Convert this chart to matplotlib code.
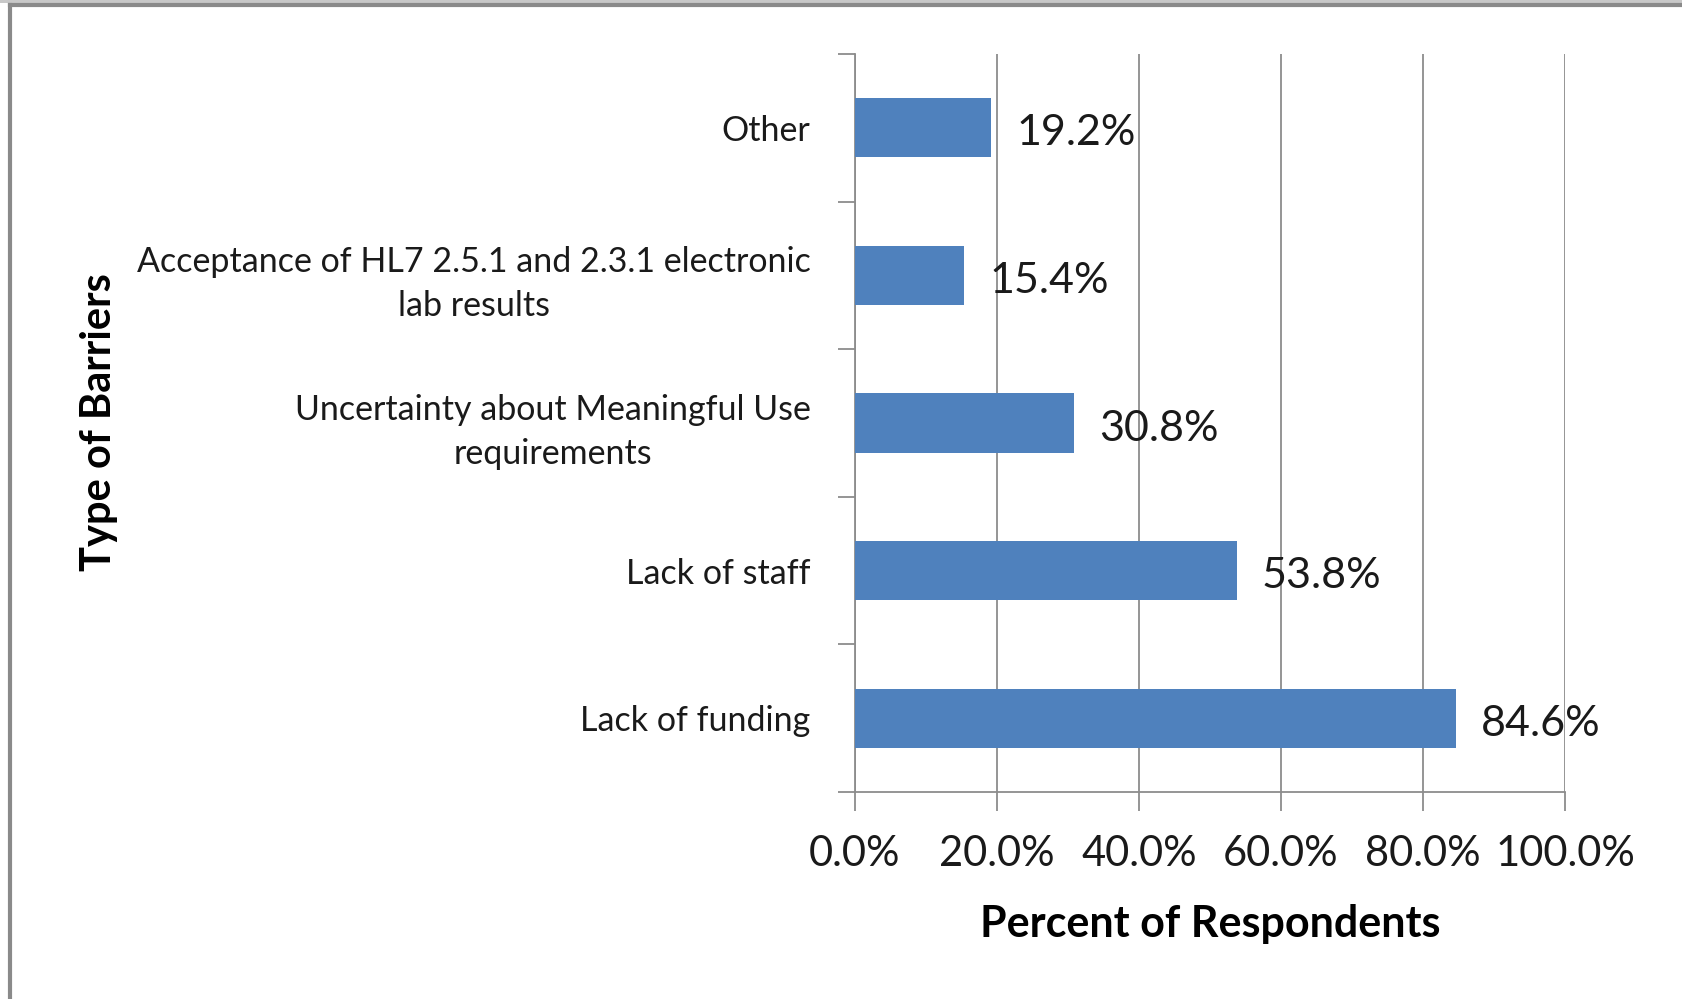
import numpy as np
import matplotlib.pyplot as plt
from matplotlib.patches import Rectangle
from matplotlib.lines import Line2D

# survey results, bottom to top
barriers = ['Lack of funding',
            'Lack of staff',
            'Uncertainty about Meaningful Use\nrequirements',
            'Acceptance of HL7 2.5.1 and 2.3.1 electronic\nlab results',
            'Other']
percents = [84.6, 53.8, 30.8, 15.4, 19.2]
xticks = [0, 20, 40, 60, 80, 100]
xlabels = ['0.0%', '20.0%', '40.0%', '60.0%', '80.0%', '100.0%']

plt.rcParams['font.family'] = ['Lato', 'DejaVu Sans']

W, H = 1683, 999
fig = plt.figure(figsize=(W / 100, H / 100), dpi=100)
ax = fig.add_axes([855 / W, 1 - 792 / H, (1565 - 855) / W, (792 - 54) / H])

bar_color = '#4f81bd'
grid_color = '#8c8c8c'

y = np.arange(len(barriers))
ax.barh(y, percents, height=0.4, color=bar_color, zorder=3)

for yi, v in zip(y, percents):
    ax.annotate(f'{v:.1f}%', (v, yi), xytext=(18, -4), textcoords='offset points',
                ha='left', va='center', fontsize=31, color='#1a1a1a', zorder=4)

ax.set_xlim(0, 100)
ax.set_ylim(-0.5, len(barriers) - 0.5)
ax.set_xticks(xticks)
ax.set_xticklabels(xlabels, fontsize=30, color='#1a1a1a')
ax.tick_params(axis='x', length=14, width=1.3, color=grid_color, pad=17)

# category boundaries carry the tick marks, centers carry the labels
ax.set_yticks(np.arange(len(barriers) + 1) - 0.5)
ax.set_yticklabels([])
ax.set_yticks(y, minor=True)
ax.set_yticklabels(barriers, minor=True, fontsize=24.5, color='#1a1a1a',
                   multialignment='center', linespacing=1.45)
ax.tick_params(axis='y', which='major', length=12, width=1.3, color=grid_color)
ax.tick_params(axis='y', which='minor', length=0, pad=32)

ax.grid(axis='x', color=grid_color, linewidth=1.3, zorder=0)
for side in ['top', 'right']:
    ax.spines[side].set_visible(False)
for side in ['left', 'bottom']:
    ax.spines[side].set_color(grid_color)
    ax.spines[side].set_linewidth(1.3)

ax.set_xlabel('Percent of Respondents', fontsize=31, fontweight='bold', labelpad=22)
fig.text(99 / W, 1 - 422 / H, 'Type of Barriers', rotation=90, fontsize=30,
         fontweight='bold', ha='center', va='center')

# chart frame
fig.add_artist(Rectangle((0, 1 - 3 / H), 1, 3 / H, transform=fig.transFigure,
                         facecolor='#c8c8c8', edgecolor='none'))
fig.add_artist(Line2D([10 / W, 10 / W], [0, 1 - 5 / H], transform=fig.transFigure,
                      color='#8a8a8a', linewidth=3))
fig.add_artist(Line2D([10 / W, 1], [1 - 5 / H, 1 - 5 / H], transform=fig.transFigure,
                      color='#8a8a8a', linewidth=3))

fig.savefig('out.png', dpi=100)
